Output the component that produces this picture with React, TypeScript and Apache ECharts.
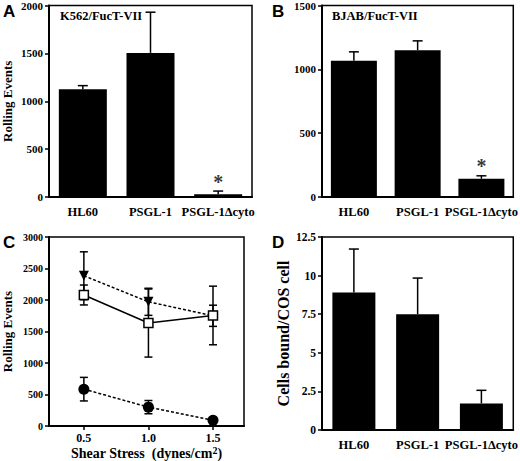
import React, { useEffect, useRef } from "react";
import * as echarts from "echarts";

const categories = ["HL60", "PSGL-1", "PSGL-1\u0394cyto"];
const aValues = [1125, 1505, 30];
const aErrors = [38, 425, 32];
const bValues = [1067, 1150, 143];
const bErrors = [70, 73, 23];
const dValues = [8.9, 7.5, 1.72];
const dErrors = [2.82, 2.34, 0.85];

const shear = [0.5, 1.0, 1.5];
const triValues = [2385, 1972, 1750];
const triErrors = [380, 215, 168];
const sqValues = [2080, 1635, 1755];
const sqErrors = [158, 540, 465];
const circValues = [586, 301, 93];
const circErrors = [187, 105, 0];

const aTicks = [0, 2000, 500];
const bTicks = [0, 1500, 500];
const cTicks = [0, 3000, 500];
const dTicks = [0, 12.5, 2.5];
const cXTicks = [0.5, 1.0, 1.5];

const SERIF = "Liberation Serif";
const SANS = "Liberation Sans";

function errRender(twoSided: boolean, capW: number) {
  return (params: any, api: any) => {
    const x = api.value(0);
    const y = api.value(1);
    const e = api.value(2);
    const top = api.coord([x, y + e]);
    const bot = api.coord([x, twoSided ? y - e : y]);
    const st = { stroke: "#000", lineWidth: 1.5 };
    const children: any[] = [
      { type: "line", shape: { x1: top[0], y1: top[1], x2: bot[0], y2: bot[1] }, style: st },
      { type: "line", shape: { x1: top[0] - capW / 2, y1: top[1], x2: top[0] + capW / 2, y2: top[1] }, style: st },
    ];
    if (twoSided) {
      children.push({ type: "line", shape: { x1: bot[0] - capW / 2, y1: bot[1], x2: bot[0] + capW / 2, y2: bot[1] }, style: st });
    }
    return { type: "group", children };
  };
}

const labelStyle = (size: number) => ({
  color: "#000",
  fontFamily: SERIF,
  fontWeight: "bold" as const,
  fontSize: size,
});

function catAxis(gridIndex: number) {
  return {
    type: "category",
    gridIndex,
    data: categories,
    axisLine: { lineStyle: { color: "#000", width: 2 } },
    axisTick: { alignWithLabel: true, length: 4, lineStyle: { color: "#000", width: 1.5 } },
    axisLabel: { ...labelStyle(12.5), margin: 8, interval: 0 },
    splitLine: { show: false },
  };
}

function valAxis(gridIndex: number, ticks: number[], fontSize: number, extra: any = {}) {
  return {
    type: "value",
    gridIndex,
    min: ticks[0],
    max: ticks[1],
    interval: ticks[2],
    axisLine: { show: true, lineStyle: { color: "#000", width: 2 } },
    axisTick: { show: true, length: 4, lineStyle: { color: "#000", width: 1.5 } },
    axisLabel: { ...labelStyle(fontSize), margin: 6, formatter: (v: number) => String(v) },
    splitLine: { show: false },
    ...extra,
  };
}

export default function App() {
  const ref = useRef<HTMLDivElement>(null);
  useEffect(() => {
    if (!ref.current) return;
    const chart = echarts.init(ref.current, null, { renderer: "svg" });
    const gridBase = { show: true, borderColor: "#000", borderWidth: 1.5, backgroundColor: "transparent", containLabel: false };
    const option: any = {
      animation: false,
      backgroundColor: "#fff",
      grid: [
        { ...gridBase, left: 48, top: 5, width: 204, height: 192 },
        { ...gridBase, left: 322, top: 5, width: 197, height: 192 },
        { ...gridBase, left: 48, top: 237, width: 196, height: 193 },
        { ...gridBase, left: 322, top: 237, width: 197, height: 193 },
      ],
      xAxis: [
        catAxis(0),
        catAxis(1),
        {
          type: "value",
          gridIndex: 2,
          min: 0.23,
          max: 1.74,
          axisLine: { show: true, lineStyle: { color: "#000", width: 2 } },
          axisTick: { show: true, length: 4, customValues: cXTicks, lineStyle: { color: "#000", width: 1.5 } },
          axisLabel: { ...labelStyle(12), margin: 6, customValues: cXTicks, formatter: (v: number) => v.toFixed(1) },
          splitLine: { show: false },
          name: "Shear Stress  (dynes/cm{sup|2})",
          nameLocation: "middle",
          nameGap: 17,
          nameTextStyle: {
            ...labelStyle(14),
            verticalAlign: "top",
            rich: { sup: { ...labelStyle(10), verticalAlign: "top", padding: [0, 0, 6, 0] } },
          },
        },
        catAxis(3),
      ],
      yAxis: [
        valAxis(0, aTicks, 11, {
          name: "Rolling Events",
          nameLocation: "middle",
          nameGap: 35,
          nameTextStyle: labelStyle(13),
        }),
        valAxis(1, bTicks, 11),
        valAxis(2, cTicks, 10, {
          name: "Rolling Events",
          nameLocation: "middle",
          nameGap: 35,
          nameTextStyle: labelStyle(13),
        }),
        valAxis(3, dTicks, 11.5, {
          name: "Cells bound/COS cell",
          nameLocation: "middle",
          nameGap: 27,
          nameTextStyle: labelStyle(16),
        }),
      ],
      graphic: [
        { type: "text", left: 3, top: 3, style: { text: "A", fontFamily: SANS, fontWeight: "bold", fontSize: 17, fill: "#000" } },
        { type: "text", left: 272, top: 3, style: { text: "B", fontFamily: SANS, fontWeight: "bold", fontSize: 17, fill: "#000" } },
        { type: "text", left: 3, top: 234, style: { text: "C", fontFamily: SANS, fontWeight: "bold", fontSize: 17, fill: "#000" } },
        { type: "text", left: 272, top: 234, style: { text: "D", fontFamily: SANS, fontWeight: "bold", fontSize: 17, fill: "#000" } },
        { type: "text", left: 60, top: 9, style: { text: "K562/FucT-VII", fontFamily: SERIF, fontWeight: "bold", fontSize: 12.5, fill: "#000" } },
        { type: "text", left: 332, top: 9, style: { text: "BJAB/FucT-VII", fontFamily: SERIF, fontWeight: "bold", fontSize: 12.5, fill: "#000" } },
      ],
      series: [
        { type: "bar", xAxisIndex: 0, yAxisIndex: 0, data: aValues, barWidth: 48, itemStyle: { color: "#000" } },
        { type: "bar", xAxisIndex: 1, yAxisIndex: 1, data: bValues, barWidth: 46, itemStyle: { color: "#000" } },
        { type: "bar", xAxisIndex: 3, yAxisIndex: 3, data: dValues, barWidth: 43, itemStyle: { color: "#000" } },
        {
          type: "custom", xAxisIndex: 0, yAxisIndex: 0, renderItem: errRender(false, 10), z: 5,
          encode: { x: 0, y: 1 },
          data: aValues.map((v, i) => [i, v, aErrors[i]]),
        },
        {
          type: "custom", xAxisIndex: 1, yAxisIndex: 1, renderItem: errRender(false, 10), z: 5,
          encode: { x: 0, y: 1 },
          data: bValues.map((v, i) => [i, v, bErrors[i]]),
        },
        {
          type: "custom", xAxisIndex: 3, yAxisIndex: 3, renderItem: errRender(false, 10), z: 5,
          encode: { x: 0, y: 1 },
          data: dValues.map((v, i) => [i, v, dErrors[i]]),
        },
        {
          type: "scatter", xAxisIndex: 0, yAxisIndex: 0, symbolSize: 1, itemStyle: { color: "transparent" },
          label: { show: true, position: "top", distance: -1, formatter: "*", ...labelStyle(20) },
          data: [[2, aValues[2] + aErrors[2]]],
        },
        {
          type: "scatter", xAxisIndex: 1, yAxisIndex: 1, symbolSize: 1, itemStyle: { color: "transparent" },
          label: { show: true, position: "top", distance: -1, formatter: "*", ...labelStyle(20) },
          data: [[2, bValues[2] + bErrors[2]]],
        },
        {
          type: "custom", xAxisIndex: 2, yAxisIndex: 2, renderItem: errRender(true, 8), z: 1,
          encode: { x: 0, y: 1 },
          data: shear.map((x, i) => [x, triValues[i], triErrors[i]]),
        },
        {
          type: "custom", xAxisIndex: 2, yAxisIndex: 2, renderItem: errRender(true, 8), z: 1,
          encode: { x: 0, y: 1 },
          data: shear.map((x, i) => [x, sqValues[i], sqErrors[i]]),
        },
        {
          type: "custom", xAxisIndex: 2, yAxisIndex: 2, renderItem: errRender(true, 8), z: 1,
          encode: { x: 0, y: 1 },
          data: shear.map((x, i) => [x, circValues[i], circErrors[i]]).filter((d) => d[2] > 0),
        },
        {
          type: "line", xAxisIndex: 2, yAxisIndex: 2, z: 3,
          data: shear.map((x, i) => [x, triValues[i]]),
          symbol: "triangle", symbolRotate: 180, symbolSize: 10,
          itemStyle: { color: "#000" },
          lineStyle: { color: "#000", width: 1.5, type: [3, 2] },
        },
        {
          type: "line", xAxisIndex: 2, yAxisIndex: 2, z: 4,
          data: shear.map((x, i) => [x, sqValues[i]]),
          symbol: "rect", symbolSize: 9,
          itemStyle: { color: "#fff", borderColor: "#000", borderWidth: 1.5 },
          lineStyle: { color: "#000", width: 1.5 },
        },
        {
          type: "line", xAxisIndex: 2, yAxisIndex: 2, z: 3,
          data: shear.map((x, i) => [x, circValues[i]]),
          symbol: "circle", symbolSize: 11,
          itemStyle: { color: "#000" },
          lineStyle: { color: "#000", width: 1.5, type: [3, 2] },
        },
      ],
    };
    chart.setOption(option);
    return () => chart.dispose();
  }, []);
  return <div ref={ref} style={{ position: "fixed", left: 0, top: 0, width: 520, height: 461 }} />;
}
